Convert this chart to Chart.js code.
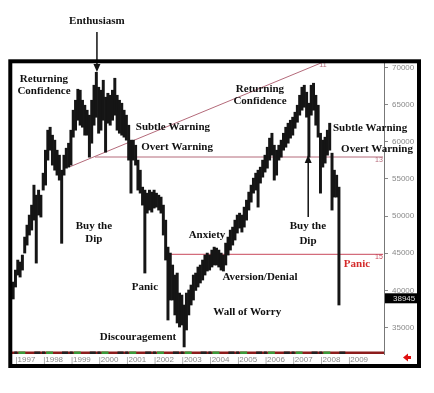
<!DOCTYPE html>
<html><head><meta charset="utf-8">
<script src="https://cdn.jsdelivr.net/npm/chart.js@4"></script>
<style>html,body{margin:0;padding:0;background:#fff;}canvas{display:block}</style>
</head><body>
<canvas id="c" width="434" height="393"></canvas>
<script>
// ---- categories (monthly, Dec 1996 .. Apr 2010 axis span) ----
const years = ['1997','1998','1999','2000','2001','2002','2003','2004','2005','2006','2007','2008','2009'];
const months = [];
(function(){ let y = 1996, m = 12; while (!(y === 2010 && m === 5)) { months.push(y + '-' + String(m).padStart(2, '0')); m++; if (m > 12) { m = 1; y++; } } })();

// ---- monthly high / low (Dec 1996 .. Sep 2008) ----
const highs = [
 41130,
 42740,44090,43820,44760,47180,48790,50140,51480,54170,52820,53500,52820,
 55780,58870,61560,61960,60890,60220,58870,58200,56180,58200,59140,59810,
 61560,64250,65590,67070,66940,65590,64920,64250,63580,65590,67610,69350,
 67340,66940,68280,66000,66530,66260,66940,68550,66260,65590,65190,64250,
 63580,62230,60220,60220,59540,57530,56180,53900,53500,53090,53500,53230,
 53500,53090,52820,52560,51480,49460,45830,45030,43420,42070,42340,39650,
 39380,38040,39650,40060,40730,42070,42340,43150,43420,44090,44760,45030,
 44760,45430,45830,45700,45430,45030,44760,46370,47180,48120,48520,49460,
 50140,50400,50140,51210,52150,53230,54170,55110,55780,56180,56590,57530,
 58200,59270,60490,61150,59540,58870,59540,60220,61150,61960,62500,62900,
 63310,63980,64920,66260,67340,67610,66670,65190,67610,67880,66260,64920,
 61150,60220,60620,61560,62500,58470,56180,55510,53900
];
const lows = [
 38850,
 40460,42070,41800,42740,45030,46100,47450,48120,49460,43680,50140,49870,
 53500,54170,57530,58870,56860,56180,55510,54840,46340,55510,56450,56590,
 56860,60620,61560,62900,62230,61960,60890,60890,57930,59810,62230,63300,
 61150,61560,62900,58600,62500,62230,62900,63580,61560,61150,60890,60620,
 60220,57530,53090,57530,56860,53500,53090,51480,42340,50400,50810,50540,
 51080,51210,50810,50400,47450,44090,36020,38710,38710,36700,35620,35080,
 35350,32400,34680,36700,38040,38710,40000,40460,41000,41400,42070,42610,
 42740,43150,43420,43420,43150,42740,42610,43420,44760,45430,46100,46780,
 47720,48390,47850,48520,49460,50810,51880,53090,53500,51210,54440,55240,
 55920,56450,57530,58200,54840,55510,57530,57930,58870,59270,59810,60490,
 60890,61820,62630,63580,64250,64650,63310,57930,63580,64250,62230,60620,
 53090,56590,57130,58200,58870,50810,52560,52560,38040
];
const lastClose = 38945;
const yTicks = [35000,40000,45000,50000,55000,60000,65000,70000];

// ---- annotations (decimal year, index value) ----
const labels = [
 {lines:['Enthusiasm'], x:1999.98, y:76250},
 {lines:['Returning','Confidence'], x:1998.07, y:[68447,66833]},
 {lines:['Subtle Warning'], x:2002.72, y:61990},
 {lines:['Overt Warning'], x:2002.87, y:59231},
 {lines:['Buy the','Dip'], x:1999.87, y:[48670,46921]},
 {lines:['Panic'], x:2001.71, y:40396},
 {lines:['Discouragement'], x:2001.46, y:33669},
 {lines:['Anxiety'], x:2003.95, y:47459},
 {lines:['Aversion/Denial'], x:2005.86, y:41808},
 {lines:['Wall of Worry'], x:2005.40, y:37099},
 {lines:['Returning','Confidence'], x:2005.86, y:[67102,65420]},
 {lines:['Subtle Warning'], x:2009.83, y:61855},
 {lines:['Overt Warning'], x:2010.08, y:59030},
 {lines:['Buy the','Dip'], x:2007.59, y:[48670,46652]},
 {lines:['Panic'], x:2009.36, y:43557, color:'#d42a2a'}
];
const arrows = [
 {x:1999.98, from:74771, to:69389},
 {x:2007.60, from:49881, to:58222}
];
const trendLines = [
 {x1:1999.01, y1:56648, x2:2008.06, y2:70600, tag:'11', tx:2008.13, ty:70350, color:'#b46a7a'},
 {x1:1999.91, y1:57953, x2:2010.3, y2:57953, tag:'13', tx:2010.15, ty:57550, color:'#b46a7a'},
 {x1:2002.61, y1:44862, x2:2010.3, y2:44862, tag:'15', tx:2010.15, ty:44480, color:'#c8485a'}
];

const decor = {
  id:'decor',
  beforeDraw(chart){
    const c = chart.ctx; c.save(); c.fillStyle = '#fff'; c.fillRect(0,0,chart.width,chart.height); c.restore();
  },
  beforeDatasetsDraw(chart){
    const c = chart.ctx, xs = chart.scales.x, ys = chart.scales.y, a = chart.chartArea;
    const X = yr => xs.getPixelForValue((yr - 1997) * 12 + 0.5);
    c.save();
    c.beginPath(); c.rect(a.left, a.top, a.right - a.left, a.bottom - a.top); c.clip();
    trendLines.forEach(l => {
      c.strokeStyle = l.color; c.lineWidth = 1;
      c.beginPath(); c.moveTo(X(l.x1), ys.getPixelForValue(l.y1)); c.lineTo(Math.min(X(l.x2), a.right), ys.getPixelForValue(l.y2)); c.stroke();
      c.fillStyle = l.color; c.font = '7px "Liberation Sans"'; c.textAlign = 'center'; c.textBaseline = 'middle';
      c.fillText(l.tag, X(l.tx), ys.getPixelForValue(l.ty));
    });
    c.restore();
  },
  afterDraw(chart){
    const c = chart.ctx, xs = chart.scales.x, ys = chart.scales.y, a = chart.chartArea;
    const X = yr => xs.getPixelForValue((yr - 1997) * 12 + 0.5);
    c.save();
    // bottom strip
    const sy = a.bottom - 2.5;
    c.fillStyle = '#8c1c1c'; c.fillRect(a.left, sy, a.right - a.left, 2.5);
    years.forEach((yr, i) => {
      if (i >= years.length - 1) return;
      const x0 = X(+yr);
      c.fillStyle = '#222'; c.fillRect(x0, sy, 3, 2.5);
      c.fillStyle = '#3a9a3a'; c.fillRect(x0 + 4, sy, 7, 2.5);
      c.fillStyle = '#222'; c.fillRect(x0 + 20, sy, 6, 2.5);
    });
    // texts
    c.font = 'bold 11px "Liberation Serif"'; c.textAlign = 'center'; c.textBaseline = 'middle';
    labels.forEach(l => {
      c.fillStyle = l.color || '#111';
      l.lines.forEach((s, k) => {
        const v = Array.isArray(l.y) ? l.y[k] : l.y;
        c.fillText(s, X(l.x), ys.getPixelForValue(v));
      });
    });
    // arrows
    arrows.forEach(ar => {
      const x = X(ar.x), y0 = ys.getPixelForValue(ar.from), y1 = ys.getPixelForValue(ar.to);
      const dir = y1 > y0 ? 1 : -1;
      c.strokeStyle = '#111'; c.lineWidth = 1.5;
      c.beginPath(); c.moveTo(x, y0); c.lineTo(x, y1 - dir * 6); c.stroke();
      c.fillStyle = '#111';
      c.beginPath(); c.moveTo(x, y1); c.lineTo(x - 3.5, y1 - dir * 8); c.lineTo(x + 3.5, y1 - dir * 8); c.closePath(); c.fill();
    });
    // last value box
    const ly = ys.getPixelForValue(lastClose);
    c.fillStyle = '#000'; c.fillRect(a.right + 1, ly - 5, 34, 10);
    c.fillStyle = '#ddd'; c.font = '8px "Liberation Sans"'; c.textAlign = 'left'; c.textBaseline = 'middle';
    c.fillText(String(lastClose), a.right + 9, ly + 0.5);
    // red arrow
    c.fillStyle = '#e01010';
    const ax = 411, ay = 357.5;
    c.beginPath(); c.moveTo(ax - 8, ay); c.lineTo(ax - 3, ay - 4); c.lineTo(ax - 3, ay - 1.5); c.lineTo(ax, ay - 1.5);
    c.lineTo(ax, ay + 1.5); c.lineTo(ax - 3, ay + 1.5); c.lineTo(ax - 3, ay + 4); c.closePath(); c.fill();
    // frame
    c.strokeStyle = '#000'; c.lineWidth = 4;
    c.strokeRect(10.3, 61.3, 408.7, 304.7);
    c.restore();
  }
};

new Chart(document.getElementById('c'), {
  type:'bar',
  data:{
    labels: months,
    datasets:[{
      data: months.map((_, i) => i < highs.length ? [lows[i], highs[i]] : null),
      backgroundColor:'#151515', borderWidth:0,
      barPercentage:1, categoryPercentage:1
    }]
  },
  options:{
    responsive:false, animation:false, devicePixelRatio:1,
    layout:{padding:{left:12, top:63, right:16, bottom:28}},
    plugins:{legend:{display:false}, tooltip:{enabled:false}},
    scales:{
      x:{
        offset:true,
        grid:{display:false, drawTicks:false}, border:{display:false},
        ticks:{autoSkip:false, maxRotation:0, minRotation:0, align:'start', padding:1,
          color:'#8a8a8a', font:{family:'Liberation Sans', size:8},
          callback:(v, i) => { const yr = months[i].slice(0,4); return months[i].endsWith('-01') && years.includes(yr) ? '|' + yr : ''; }},
        afterFit: s => { s.height = 11; }
      },
      y:{
        position:'right', min:31450, max:70600,
        afterBuildTicks: s => { s.ticks = yTicks.map(v => ({value:v})); },
        ticks:{color:'#8a8a8a', font:{family:'Liberation Sans', size:8}, padding:4, callback: v => String(v)},
        grid:{drawOnChartArea:false, drawTicks:true, tickLength:4, color:'#888'},
        border:{display:true, color:'#777', dash:[1,1], width:1},
        afterFit: s => { s.width = 34; }
      }
    }
  },
  plugins:[decor]
});
</script>
</body></html>
